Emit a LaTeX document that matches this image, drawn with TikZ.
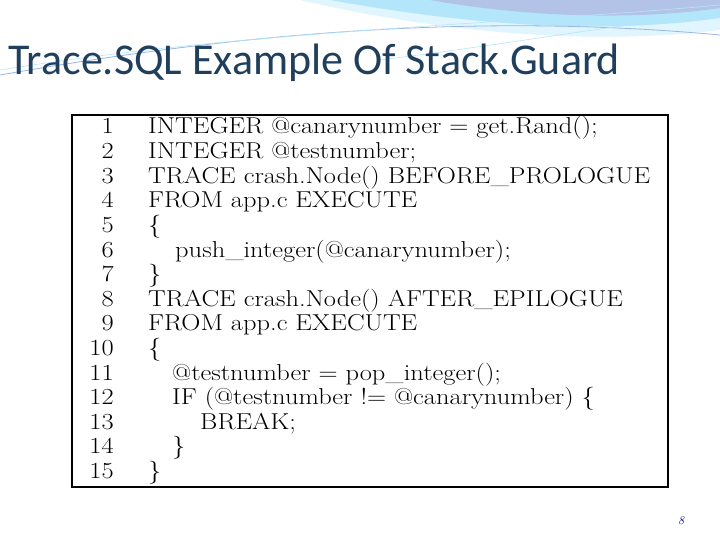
\documentclass[tikz,border=0pt]{standalone}
\usepackage{fontspec}
\newfontfamily\titlefont{Carlito}
\definecolor{titlec}{HTML}{1F3F5C}
\begin{document}
\begin{tikzpicture}[x=1pt,y=-1pt,
  code/.style={anchor=base west,inner sep=0pt,xscale=1.15,font=\fontsize{23}{24}\selectfont},
  num/.style={anchor=base east,inner sep=0pt,xscale=1.15,font=\fontsize{23}{24}\selectfont}]
\useasboundingbox (0,0) rectangle (720,540);
% top decoration
\fill[cyan!12] (300,0) .. controls (450,35) and (600,45) .. (720,30) -- (720,0) -- cycle;
\fill[cyan!30] (330,0) .. controls (470,25) and (600,35) .. (720,18) -- (720,0) -- cycle;
\fill[cyan!45!blue!30] (430,0) .. controls (530,18) and (640,20) .. (720,8) -- (720,0) -- cycle;
\draw[cyan!50!blue!40,line width=0.8pt] (0,75) .. controls (200,40) and (450,10) .. (720,35);
\draw[cyan!30,line width=0.6pt] (0,70) .. controls (250,30) and (500,25) .. (720,5);
\draw[cyan!30,line width=0.6pt] (380,60) .. controls (500,45) and (620,25) .. (720,12);
% title
\node[anchor=base west,inner sep=0pt,text=titlec,font=\titlefont\fontsize{44}{46}\selectfont] (title) at (8,75) {Trace.SQL Example Of Stack.Guard};
% box
\draw[line width=1.5pt] (72,115) rectangle (668,487);
\foreach \i/\t/\ind in {
 1/{INTEGER @canarynumber = get.Rand();}/0,
 2/{INTEGER @testnumber;}/0,
 3/{TRACE crash.Node() BEFORE\_PROLOGUE}/0,
 4/{FROM app.c EXECUTE}/0,
 5/{\{}/0,
 6/{push\_integer(@canarynumber);}/27,
 7/{\}}/0,
 8/{TRACE crash.Node() AFTER\_EPILOGUE}/0,
 9/{FROM app.c EXECUTE}/0,
 10/{\{}/0,
 11/{@testnumber = pop\_integer();}/24,
 12/{IF (@testnumber != @canarynumber) \{}/24,
 13/{BREAK;}/52,
 14/{\}}/24,
 15/{\}}/0}{
  \node[num] (n\i) at (114,{134+(\i-1)*24.6}) {\i};
  \node[code] (c\i) at ({148+\ind},{134+(\i-1)*24.6}) {\t};
}
\node[anchor=base,inner sep=0pt,text=blue!50!black,font=\itshape\fontsize{12}{12}\selectfont] (pg) at (681,524) {8};
\end{tikzpicture}
\end{document}
